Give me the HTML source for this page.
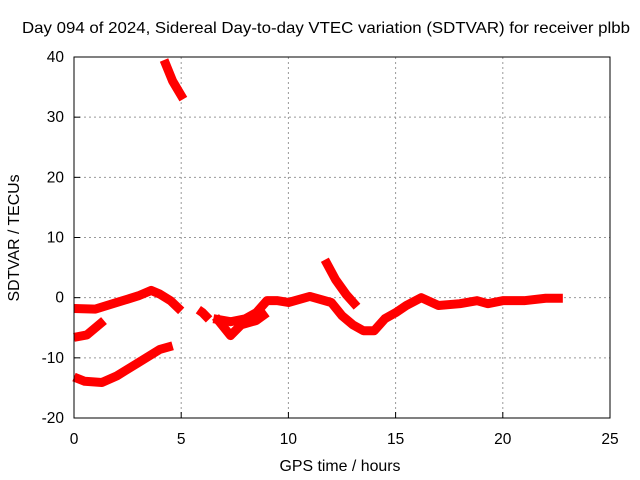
<!DOCTYPE html>
<html><head><meta charset="utf-8"><style>
body{margin:0;background:#fff}
svg{display:block;font-family:"Liberation Sans",sans-serif}
</style></head><body>
<svg id="c" width="640" height="480">
<rect width="640" height="480" fill="#fff"/>
<text x="326" y="33" font-size="16" text-anchor="middle" textLength="608" lengthAdjust="spacingAndGlyphs">Day 094 of 2024, Sidereal Day-to-day VTEC variation (SDTVAR) for receiver plbb</text>
<text x="340" y="471" font-size="16" text-anchor="middle" textLength="121" lengthAdjust="spacingAndGlyphs">GPS time / hours</text>
<text transform="translate(19,238) rotate(-90)" font-size="16" text-anchor="middle" textLength="127" lengthAdjust="spacingAndGlyphs">SDTVAR / TECUs</text>
<g id="grid"></g><g id="series"></g>
<rect x="74" y="57" width="536" height="361" fill="none" stroke="#000"/>
</svg>
<script>
const xTicks=[0,5,10,15,20,25];
const yTicks=[-20,-10,0,10,20,30,40];
const seg1=[[0,-1.8],[1,-1.9],[2,-0.8],[3,0.3],[3.6,1.2],[4,0.6],[4.5,-0.5],[5,-2.2]];
const seg2=[[0,-6.6],[0.6,-6.2],[1.4,-3.8]];
const seg3=[[0,-13.2],[0.5,-13.9],[1.3,-14.1],[2,-13],[3,-10.8],[4,-8.6],[4.6,-8.0]];
const seg4=[[4.2,39.5],[4.6,36],[5.1,33]];
const seg5=[[5.8,-2],[6.0,-2.5],[6.3,-3.6]];
const seg6=[[6.5,-3.5],[7.3,-4],[8,-3.5],[8.5,-2.5],[9,-0.5],[9.5,-0.5],[10,-0.8],[11,0.2],[12,-0.8],[12.5,-3],[13,-4.5],[13.5,-5.5],[14,-5.5],[14.5,-3.5],[15,-2.5],[15.5,-1.3],[16.2,0],[17,-1.3],[18,-1],[18.8,-0.5],[19.3,-1],[20,-0.5],[21,-0.5],[22,-0.1],[22.8,-0.1]];
const seg7=[[6.6,-3.2],[7.3,-6.3],[7.8,-4.5],[8.5,-3.8],[9,-2.5]];
const seg8=[[11.7,6.3],[12.2,3],[12.7,0.5],[13.2,-1.5]];
const segments=[seg1,seg2,seg3,seg4,seg5,seg6,seg7,seg8];
const X=h=>74+h*536/25, Y=v=>57+(40-v)*361/60;
const NS="http://www.w3.org/2000/svg";
const g=document.getElementById('grid'), s=document.getElementById('series');
function mk(tag,a,p){const e=document.createElementNS(NS,tag);for(const k in a)e.setAttribute(k,a[k]);p.appendChild(e);return e;}
xTicks.forEach(t=>{
 if(t>0&&t<25){const l=mk('line',{x1:X(t),x2:X(t),y1:57,y2:418,stroke:'#999','stroke-dasharray':'2,3'},g);
 
 }
 const tx=mk('text',{x:X(t),y:444,'font-size':15.5,'text-anchor':'middle'},g);tx.textContent=t;
 
 
 mk('line',{x1:X(t),x2:X(t),y1:418,y2:412,stroke:'#000'},g);
});
yTicks.forEach(t=>{
 if(t>-20&&t<40){const l=mk('line',{x1:74,x2:610,y1:Y(t),y2:Y(t),stroke:'#999','stroke-dasharray':'2,3'},g);
 
 }
 const tx=mk('text',{x:64,y:Y(t)+5,'font-size':15.5,'text-anchor':'end'},g);tx.textContent=t;
 
 
 mk('line',{x1:74,x2:80,y1:Y(t),y2:Y(t),stroke:'#000'},g);
});
segments.forEach(seg=>{
 const p=mk('polyline',{points:seg.map(d=>X(d[0])+','+Y(d[1])).join(' '),fill:'none',stroke:'#f00','stroke-width':9,'stroke-linejoin':'round'},s);
 
 
});
</script>
</body></html>
